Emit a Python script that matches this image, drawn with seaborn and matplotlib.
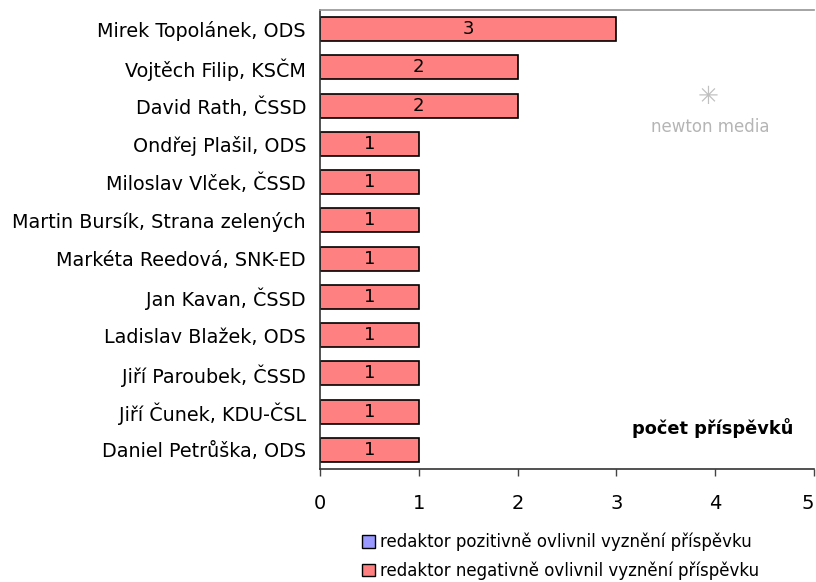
import matplotlib
matplotlib.use("Agg")
import matplotlib.pyplot as plt
import seaborn as sns
import pandas as pd
from matplotlib.patches import Patch

names = [
    "Mirek Topolánek, ODS",
    "Vojtěch Filip, KSČM",
    "David Rath, ČSSD",
    "Ondřej Plašil, ODS",
    "Miloslav Vlček, ČSSD",
    "Martin Bursík, Strana zelených",
    "Markéta Reedová, SNK-ED",
    "Jan Kavan, ČSSD",
    "Ladislav Blažek, ODS",
    "Jiří Paroubek, ČSSD",
    "Jiří Čunek, KDU-ČSL",
    "Daniel Petrůška, ODS",
]
positive = [0, 0, 0, 0, 0, 0, 0, 0, 0, 0, 0, 0]
negative = [3, 2, 2, 1, 1, 1, 1, 1, 1, 1, 1, 1]
series_labels = ["redaktor pozitivně ovlivnil vyznění příspěvku",
                 "redaktor negativně ovlivnil vyznění příspěvku"]
pos_color = "#9999FF"
neg_color = "#FF8080"

sns.set_theme(style="white")
plt.rcParams["font.family"] = ["DejaVu Sans"]
plt.rcParams["text.color"] = "black"
plt.rcParams["xtick.labelcolor"] = "black"
plt.rcParams["ytick.labelcolor"] = "black"

df = pd.DataFrame({"name": names, "pos": positive, "neg": negative})
df["total"] = df["pos"] + df["neg"]

fig = plt.figure(figsize=(8.16, 5.82), dpi=100)
ax = fig.add_axes([320/816, 1-469/582, 494/816, 459/582])

sns.barplot(data=df, y="name", x="total", orient="h", color=neg_color,
            saturation=1, edgecolor="black", linewidth=1.2, width=0.63, ax=ax)
sns.barplot(data=df, y="name", x="pos", orient="h", color=pos_color,
            saturation=1, edgecolor="black", linewidth=1.2, width=0.63, ax=ax)

for i, (p, n) in enumerate(zip(positive, negative)):
    if n > 0:
        ax.text(p + n / 2, i, str(n), ha="center", va="center", fontsize=13, color="black")

ax.set_xlim(0, 5)
ax.set_ylim(len(names) - 0.5, -0.5)
ax.set_xticks(range(0, 6))
ax.set_xlabel("")
ax.set_ylabel("")
ax.tick_params(axis="x", labelsize=14, length=5, width=1, color="#444444", pad=13, bottom=True, direction="out")
ax.tick_params(axis="y", labelsize=13.8, length=0, pad=10)
for s in ["left", "bottom"]:
    ax.spines[s].set_color("#333333")
    ax.spines[s].set_linewidth(1.2)
ax.spines["top"].set_color("#999999")
ax.spines["right"].set_visible(False)
for lbl in ax.get_xticklabels():
    if lbl.get_text() == "5":
        lbl.set_horizontalalignment("right")

ax.text(0.794, 0.09, "počet příspěvků", transform=ax.transAxes, ha="center", va="center",
        fontsize=12.8, fontweight="bold")
ax.text(0.79, 0.745, "newton media", transform=ax.transAxes, ha="center", va="center",
        fontsize=12, color="#b5b5b5")
ax.text(0.785, 0.81, "✳", transform=ax.transAxes, ha="center", va="center",
        fontsize=18, color="#c0c0c0")

handles = [Patch(facecolor=pos_color, edgecolor="black", linewidth=1),
           Patch(facecolor=neg_color, edgecolor="black", linewidth=1)]
fig.legend(handles, series_labels, loc="upper left", bbox_to_anchor=(355/816, 1-526/582),
           frameon=False, fontsize=12, handlelength=0.8, handleheight=0.8,
           handletextpad=0.3, labelspacing=0.6, borderaxespad=0)

fig.savefig("out.png", dpi=100)
